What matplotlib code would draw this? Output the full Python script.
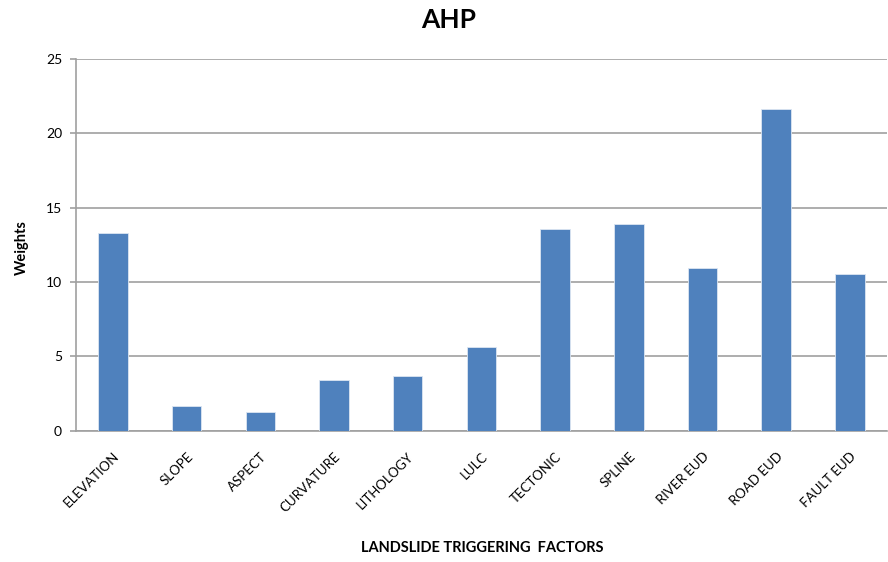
import matplotlib.pyplot as plt

factors = ['ELEVATION', 'SLOPE', 'ASPECT', 'CURVATURE', 'LITHOLOGY', 'LULC',
           'TECTONIC', 'SPLINE', 'RIVER EUD', 'ROAD EUD', 'FAULT EUD']
weights = [13.32, 1.68, 1.28, 3.41, 3.66, 5.65, 13.58, 13.88, 10.92, 21.63, 10.56]
y_ticks = [0, 5, 10, 15, 20, 25]

plt.rcParams['font.family'] = ['Lato', 'DejaVu Sans']

fig = plt.figure(figsize=(8.88, 5.62), dpi=100)
ax = fig.add_axes([0.0856, 0.2336, 0.913, 0.6614])

x = range(len(factors))
ax.bar(x, weights, width=0.4, color='#4F81BD', edgecolor='#DCE6F2', linewidth=0.6, zorder=3)

ax.set_xlim(-0.5, len(factors) - 0.5)
ax.set_ylim(0, 25)
ax.set_yticks(y_ticks)
ax.set_yticklabels([str(t) for t in y_ticks], fontsize=10)
ax.set_xticks(list(x))
ax.set_xticklabels(factors, rotation=45, ha='right', rotation_mode='anchor', fontsize=9.5)
ax.tick_params(axis='x', length=0, pad=14)
ax.tick_params(axis='y', length=4, color='#A0A0A0', width=1.2, pad=6)

ax.grid(axis='y', color='#A0A0A0', linewidth=1.2, zorder=0)
for side in ['top', 'right']:
    ax.spines[side].set_visible(False)
for side in ['left', 'bottom']:
    ax.spines[side].set_color('#A0A0A0')
    ax.spines[side].set_linewidth(1.2)

fig.text(0.505, 0.965, 'AHP', ha='center', va='center', fontsize=19, fontweight='bold')
fig.text(0.543, 0.012, 'LANDSLIDE TRIGGERING  FACTORS', ha='center', va='bottom',
         fontsize=10.5, fontweight='bold')
fig.text(0.025, 0.56, 'Weights', ha='center', va='center', rotation=90,
         fontsize=10.5, fontweight='bold')

fig.savefig('out.png', dpi=100)
